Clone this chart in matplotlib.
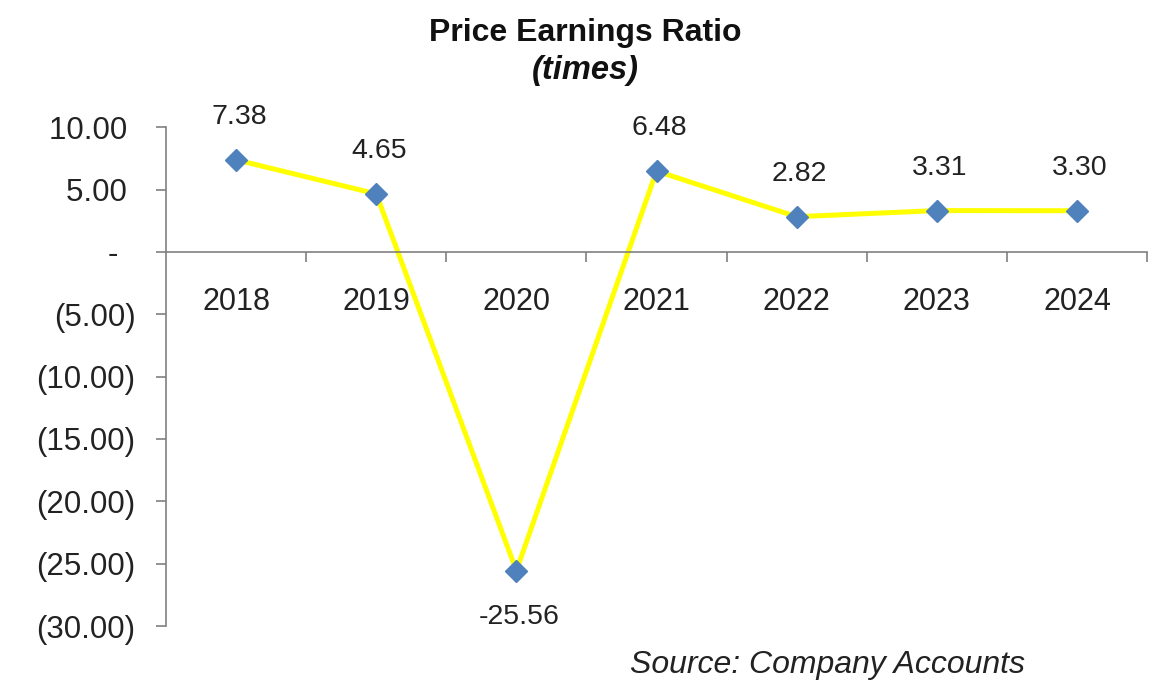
import matplotlib
matplotlib.use("Agg")
import matplotlib.pyplot as plt
from matplotlib.ticker import FuncFormatter, FixedLocator

# 数据
years = ["2018", "2019", "2020", "2021", "2022", "2023", "2024"]
pe_ratio = [7.38, 4.65, -25.56, 6.48, 2.82, 3.31, 3.30]
y_ticks = [10, 5, 0, -5, -10, -15, -20, -25, -30]

plt.rcParams['font.family'] = ['Liberation Sans', 'DejaVu Sans']


def fmt_num(v, pos=None):
    """会计格式: 负数加括号, 零显示 -, 正数后留空位对齐括号"""
    if abs(v) < 1e-9:
        return "-  "
    if v < 0:
        return f"({abs(v):.2f})"
    return f"{v:.2f} "


fig = plt.figure(figsize=(11.7, 6.91), dpi=100)
ax = fig.add_axes([0.1419, 0.094, 0.8385, 0.722])

x = list(range(len(years)))
ax.plot(x, pe_ratio, color="#FFFF00", linewidth=3.6, zorder=2,
        marker="D", markersize=11, markerfacecolor="#4F81BD",
        markeredgecolor="#4F81BD")

# 数据标签
for xi, v in zip(x, pe_ratio):
    off = 31 if v >= 0 else -33
    ax.annotate(f"{v:.2f}", (xi, v), xytext=(2, off), textcoords="offset points",
                ha="center", va="center", fontsize=20.5, color="#222222")

ax.set_xlim(-0.5, len(years) - 0.5)
ax.set_ylim(-30, 10)
ax.yaxis.set_major_locator(FixedLocator(y_ticks))
ax.yaxis.set_major_formatter(FuncFormatter(fmt_num))

# 坐标轴样式
for s in ["top", "right"]:
    ax.spines[s].set_visible(False)
ax.spines["bottom"].set_position(("data", 0))
ax.spines["bottom"].set_color("#808080")
ax.spines["left"].set_color("#808080")
ax.spines["bottom"].set_linewidth(1.2)
ax.spines["left"].set_linewidth(1.2)

ax.set_xticks(x)
ax.set_xticklabels(years)
ax.set_xticks([i + 0.5 for i in x], minor=True)
ax.tick_params(axis="x", which="major", length=0, pad=25, labelsize=22, labelcolor="#222222")
ax.tick_params(axis="x", which="minor", length=7, width=1.2, color="#808080", direction="out")
ax.tick_params(axis="y", length=7, width=1.2, color="#808080", pad=15,
               labelsize=22.5, labelcolor="#222222")

fig.text(0.5, 0.952, "Price Earnings Ratio", ha="center", va="center",
         fontsize=23, fontweight="bold", color="#111111")
fig.text(0.5, 0.898, "(times)", ha="center", va="center",
         fontsize=23.5, fontweight="bold", fontstyle="italic", color="#111111")
fig.text(0.876, 0.037, "Source: Company Accounts", ha="right", va="center",
         fontsize=23, fontstyle="italic", color="#222222")

fig.savefig("out.png", dpi=100)
